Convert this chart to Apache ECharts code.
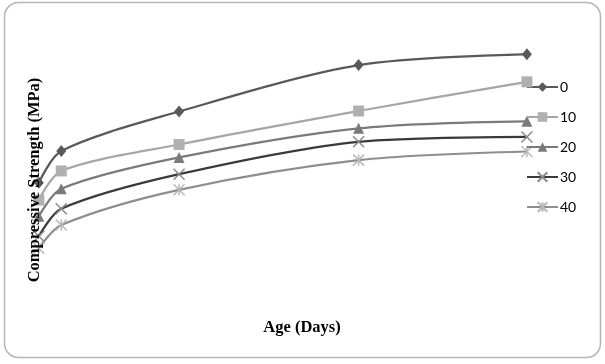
<!DOCTYPE html>
<html><head><meta charset="utf-8">
<script src="https://cdn.jsdelivr.net/npm/echarts@6/dist/echarts.min.js"></script>
<style>html,body{margin:0;padding:0;background:#fff}#c{width:605px;height:364px}</style>
</head><body><div id="c"></div>
<script>
const ages = [3, 7, 28, 60, 90];
const seriesNames = ['0', '10', '20', '30', '40'];
const s0  = [21.7, 27.6, 34.9, 43.5, 45.5];
const s10 = [18.5, 23.9, 28.8, 35.0, 40.4];
const s20 = [15.5, 20.6, 26.4, 31.8, 33.1];
const s30 = [11.8, 16.9, 23.3, 29.3, 30.2];
const s40 = [9.6, 13.9, 20.4, 25.9, 27.5];
const values = [s0, s10, s20, s30, s40];

const lineColors = ['#595959', '#a6a6a6', '#7a7a7a', '#3a3a3a', '#8e8e8e'];
const markColors = ['#595959', '#b0b0b0', '#7a7a7a', '#8a8a8a', '#b8b8b8'];
const symbols = ['diamond', 'rect', 'triangle',
  'path://M0,0L10,10M10,0L0,10',
  'path://M0,0L10,10M10,0L0,10M5,0L5,10'];
const sizes = [[10, 12], 11, 11, 11, 11];

const chart = echarts.init(document.getElementById('c'), null, {renderer: 'canvas'});
const series = values.map((v, i) => ({
  name: seriesNames[i],
  type: 'line',
  smooth: 0.3,
  data: v.map((y, k) => [ages[k], y]),
  symbol: symbols[i],
  symbolSize: sizes[i],
  showSymbol: true,
  lineStyle: {color: lineColors[i], width: 2.25},
  itemStyle: i >= 3
    ? {color: 'rgba(0,0,0,0)', borderColor: markColors[i], borderWidth: 1.5}
    : {color: markColors[i], borderWidth: 0},
  emphasis: {disabled: true},
  z: 5 - i
}));

chart.setOption({
  animation: false,
  backgroundColor: '#fff',
  grid: {left: 22, top: 30, width: 561, height: 270},
  xAxis: {type: 'value', min: 0, max: 100, axisLine: {show: false}, axisTick: {show: false},
          axisLabel: {show: false}, splitLine: {show: false}},
  yAxis: {type: 'value', min: 0, max: 50, axisLine: {show: false}, axisTick: {show: false},
          axisLabel: {show: false}, splitLine: {show: false}},
  legend: {
    orient: 'vertical', left: 521, top: 75, itemWidth: 31, itemHeight: 12, itemGap: 16,
    textStyle: {fontFamily: 'Lato', fontSize: 14, color: '#000', padding: [0, 0, 0, -3]},
    data: seriesNames
  },
  graphic: [
    {type: 'rect', shape: {x: 4.5, y: 2.5, width: 596, height: 355, r: 14},
     style: {fill: 'none', stroke: '#b5b5b5', lineWidth: 1.5}, z: -10},
    {type: 'text', x: 35, y: 180, rotation: Math.PI / 2,
     style: {text: 'Compressive Strength (MPa)', font: 'bold 16.5px "Liberation Serif"',
             fill: '#000', textAlign: 'center', textVerticalAlign: 'middle'}, z: 100},
    {type: 'text', x: 302, y: 328,
     style: {text: 'Age (Days)', font: 'bold 16.5px "Liberation Serif"',
             fill: '#000', textAlign: 'center', textVerticalAlign: 'middle'}, z: 100}
  ],
  series: series
});
</script></body></html>
